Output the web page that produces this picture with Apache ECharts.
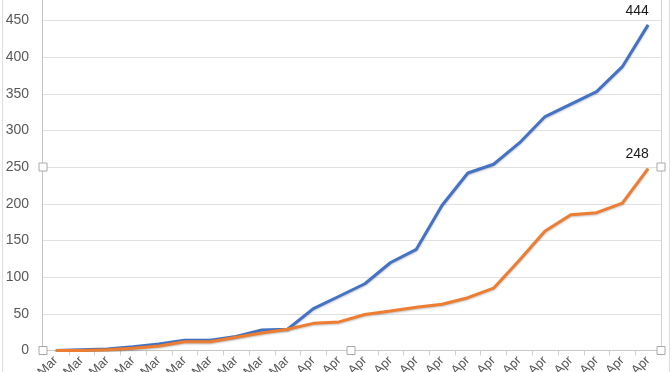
<!DOCTYPE html>
<html>
<head>
<meta charset="utf-8">
<script src="https://cdn.jsdelivr.net/npm/echarts@6/dist/echarts.min.js"></script>
<style>
html,body{margin:0;padding:0;background:#fff;}
#c{width:672px;height:372px;}
</style>
</head>
<body>
<div id="c"></div>
<script>
const categories = ["22-Mar","23-Mar","24-Mar","25-Mar","26-Mar","27-Mar","28-Mar","29-Mar","30-Mar","31-Mar",
  "1-Apr","2-Apr","3-Apr","4-Apr","5-Apr","6-Apr","7-Apr","8-Apr","9-Apr","10-Apr","11-Apr","12-Apr","13-Apr","14-Apr"];
const seriesA = [0,1,2,5,9,14,14,19,28,29,57,74,91,120,138,198,242,254,283,319,336,353,387,444];
const seriesB = [0,0,1,3,6,12,12,18,24,29,37,39,49,54,59,63,72,85,123,163,185,188,201,248];
const yTicks = {min:0, max:450, interval:50};

const chart = echarts.init(document.getElementById('c'));
const frame = '#c4c4c4';
function handle(x,y){
  return {type:'rect', shape:{x:x-4,y:y-4,width:8,height:8}, style:{fill:'#fff', stroke:'#a8a8a8', lineWidth:1}, z:100};
}
function lastLabel(arr){
  return arr.map((v,i)=> i===arr.length-1 ? {value:v, label:{show:true}} : v);
}
const lbl = {show:false, position:'top', offset:[-11,-2], fontFamily:'Liberation Sans', fontSize:14, color:'#1a1a1a'};
chart.setOption({
  animation:false,
  grid:{left:43, right:11, top:20.5, bottom:21.5, containLabel:false, outerBoundsMode:'none'},
  xAxis:{
    type:'category', data:categories, boundaryGap:true,
    axisLine:{lineStyle:{color:'#c8c8c8', width:1}},
    axisTick:{show:true, alignWithLabel:false, length:5, lineStyle:{color:'#d0d0d0'}},
    axisLabel:{rotate:45, interval:0, margin:8, hideOverlap:false, fontFamily:'Liberation Sans', fontSize:13, color:'#595959'}
  },
  yAxis:{
    type:'value', min:yTicks.min, max:yTicks.max, interval:yTicks.interval,
    axisLine:{show:false}, axisTick:{show:false},
    splitLine:{lineStyle:{color:'#e0e0e0', width:1}},
    axisLabel:{margin:14, fontFamily:'Liberation Sans', fontSize:14, color:'#595959'}
  },
  series:[
    {type:'line', data:lastLabel(seriesA), symbol:'circle', symbolSize:0.01, showSymbol:true,
     lineStyle:{color:'#4472C4', width:3, shadowColor:'rgba(0,0,0,0.25)', shadowBlur:2, shadowOffsetY:1},
     itemStyle:{color:'#4472C4'}, label:lbl},
    {type:'line', data:lastLabel(seriesB), symbol:'circle', symbolSize:0.01, showSymbol:true,
     lineStyle:{color:'#ED7D31', width:3, shadowColor:'rgba(0,0,0,0.25)', shadowBlur:2, shadowOffsetY:1},
     itemStyle:{color:'#ED7D31'}, label:lbl}
  ],
  graphic:[
    {type:'line', shape:{x1:42.5,y1:0,x2:42.5,y2:350.5}, style:{stroke:frame, lineWidth:1}, z:50},
    {type:'line', shape:{x1:661.5,y1:0,x2:661.5,y2:350.5}, style:{stroke:'#d4d4d4', lineWidth:1}, z:50},
    {type:'line', shape:{x1:2.5,y1:0,x2:2.5,y2:372}, style:{stroke:'#dedede', lineWidth:1}, z:50},
    {type:'line', shape:{x1:669.5,y1:0,x2:669.5,y2:372}, style:{stroke:'#dedede', lineWidth:1}, z:50},
    handle(43,167), handle(43,350.5), handle(351,350.5), handle(661,167), handle(661,350.5)
  ]
});
</script>
</body>
</html>
